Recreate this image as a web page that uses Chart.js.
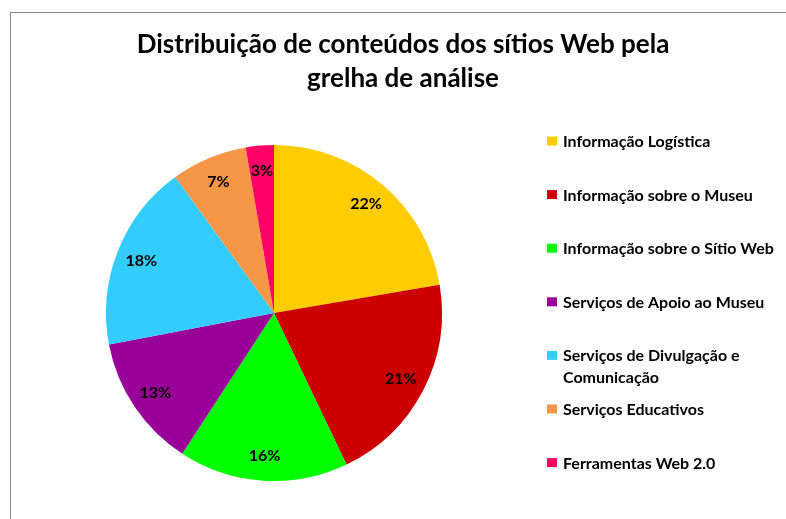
<!DOCTYPE html>
<html>
<head>
<meta charset="utf-8">
<script src="https://cdn.jsdelivr.net/npm/chart.js@4"></script>
<style>
    body { margin: 0; background: #fff; overflow: hidden; }
    #box {
        position: absolute;
        left: 10px;
        top: 12px;
        width: 784px;
        height: 520px;
        border-left: 1px solid #878787;
        border-top: 1px solid #878787;
    }
</style>
</head>
<body>
<div id="box"><canvas id="pieChart" width="784" height="520"></canvas></div>
<script>
const titleLines = ['Distribuição de conteúdos dos sítios Web pela', 'grelha de análise'];
const categories = [
    'Informação Logística',
    'Informação sobre o Museu',
    'Informação sobre o Sítio Web',
    'Serviços de Apoio ao Museu',
    ['Serviços de Divulgação e', 'Comunicação'],
    'Serviços Educativos',
    'Ferramentas Web 2.0'
];
const shares = [22.3, 20.6, 16.3, 12.8, 18.0, 7.3, 2.7];
const sliceColors = ['#FFCC00', '#CC0000', '#00FF00', '#990099', '#33CCFF', '#F79646', '#FF0066'];

// title drawn by hand so it can be centred on the whole box, not on the pie
const titlePlugin = {
    id: 'boxTitle',
    afterDraw(chart) {
        const ctx = chart.ctx;
        ctx.save();
        ctx.font = 'bold 26px Lato';
        ctx.fillStyle = '#000';
        ctx.textAlign = 'center';
        ctx.textBaseline = 'alphabetic';
        titleLines.forEach((line, i) => {
            ctx.fillText(line, chart.width / 2, 40 + i * 34);
        });
        ctx.restore();
    }
};

// percentage labels inside the slices
const percentPlugin = {
    id: 'percentLabels',
    afterDatasetsDraw(chart) {
        const ctx = chart.ctx;
        const meta = chart.getDatasetMeta(0);
        const data = chart.data.datasets[0].data;
        const total = data.reduce((a, b) => a + b, 0);
        ctx.save();
        ctx.font = 'bold 16px Lato';
        ctx.fillStyle = '#000';
        ctx.textAlign = 'center';
        ctx.textBaseline = 'middle';
        meta.data.forEach((arc, i) => {
            const mid = (arc.startAngle + arc.endAngle) / 2;
            const r = arc.outerRadius * 0.85;
            const x = arc.x + Math.cos(mid) * r;
            const y = arc.y + Math.sin(mid) * r;
            ctx.fillText(Math.round(data[i] / total * 100) + '%', x, y);
        });
        ctx.restore();
    }
};

// legend on the right, one row per category, even spacing by first line
const legendPlugin = {
    id: 'sideLegend',
    afterDraw(chart) {
        const ctx = chart.ctx;
        const colors = chart.data.datasets[0].backgroundColor;
        ctx.save();
        ctx.font = 'bold 16px Lato';
        ctx.textAlign = 'left';
        ctx.textBaseline = 'alphabetic';
        chart.data.labels.forEach((label, i) => {
            const base = 134 + i * 53.6;
            ctx.fillStyle = colors[i];
            ctx.fillRect(536, base - 10.5, 10, 9);
            ctx.fillStyle = '#000';
            const lines = Array.isArray(label) ? label : [label];
            lines.forEach((t, j) => ctx.fillText(t, 552, base + j * 21.7));
        });
        ctx.restore();
    }
};

const ctx = document.getElementById('pieChart').getContext('2d');
const pieChart = new Chart(ctx, {
    type: 'pie',
    data: {
        labels: categories,
        datasets: [{
            data: shares,
            backgroundColor: sliceColors,
            borderWidth: 0
        }]
    },
    options: {
        responsive: false,
        animation: false,
        events: [],
        layout: {
            padding: { left: 95, right: 353, top: 132, bottom: 52 }
        },
        plugins: {
            legend: { display: false },
            title: { display: false },
            tooltip: { enabled: false }
        }
    },
    plugins: [titlePlugin, percentPlugin, legendPlugin]
});
</script>
</body>
</html>
